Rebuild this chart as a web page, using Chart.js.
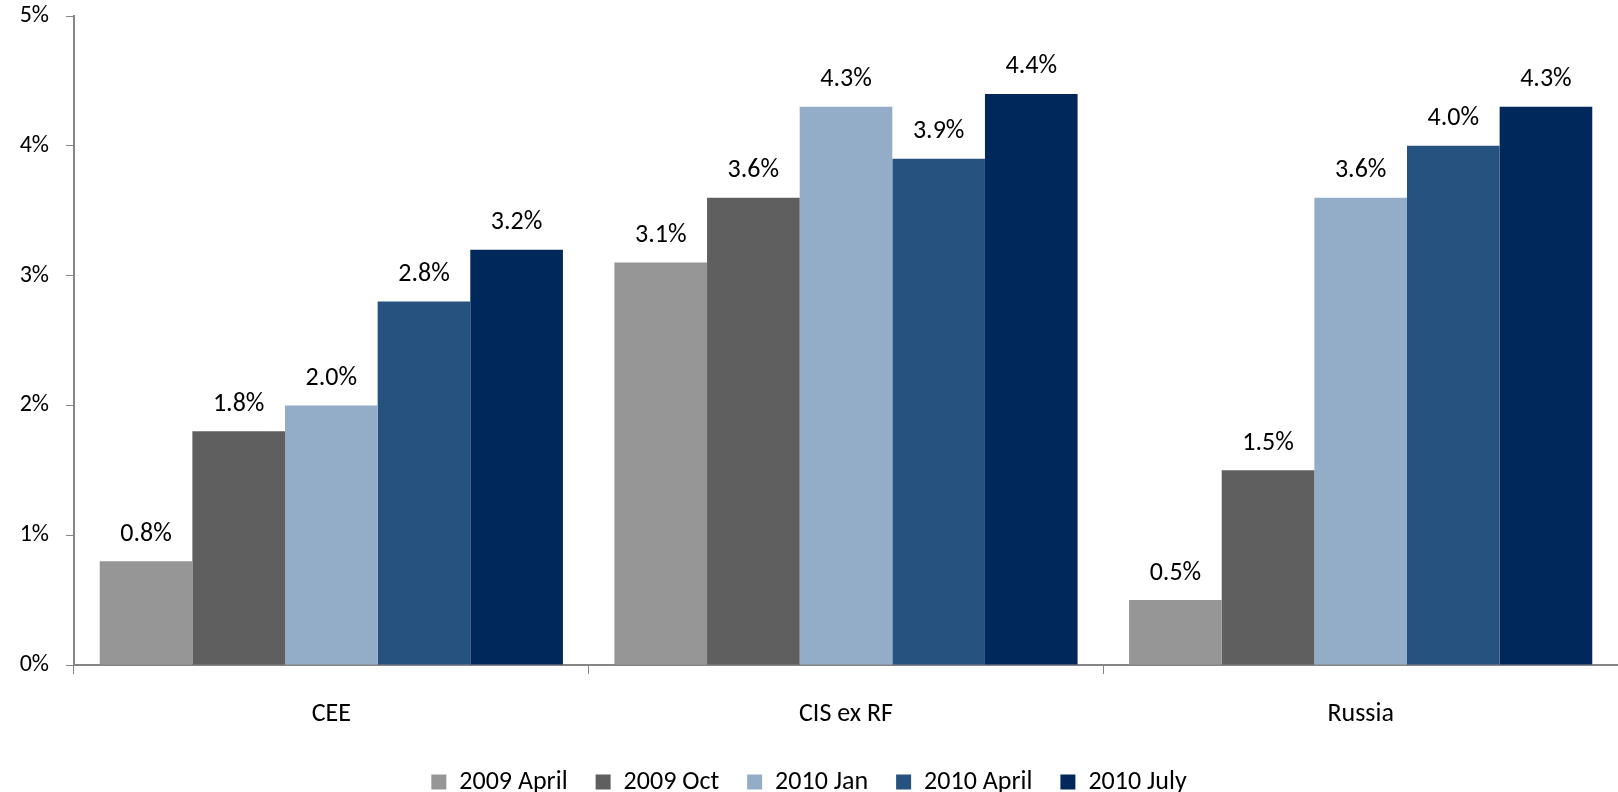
<!DOCTYPE html>
<html>
<head>
<meta charset="utf-8">
<script src="https://cdn.jsdelivr.net/npm/chart.js@4"></script>
<style>
  html, body { margin: 0; padding: 0; background: #fff; }
  #wrap { width: 1618px; height: 792px; }
</style>
</head>
<body>
<div id="wrap"><canvas id="myChart" width="1618" height="792"></canvas></div>
<script>
(function () {
    'use strict';

    // Data
    var categories = ['CEE', 'CIS ex RF', 'Russia'];
    var seriesNames = ['2009 April', '2009 Oct', '2010 Jan', '2010 April', '2010 July'];
    var apr2009 = [0.8, 3.1, 0.5];
    var oct2009 = [1.8, 3.6, 1.5];
    var jan2010 = [2.0, 4.3, 3.6];
    var apr2010 = [2.8, 3.9, 4.0];
    var jul2010 = [3.2, 4.4, 4.3];
    var yTicks = [0, 1, 2, 3, 4, 5];

    var colours = ['#969696', '#5f5f5f', '#93acc8', '#26527f', '#00285a'];
    var values = [apr2009, oct2009, jan2010, apr2010, jul2010];
    var fontFamily = "Carlito, Lato, sans-serif";
    var axisGrey = '#868686';

    var datasets = [];
    for (var i = 0; i < seriesNames.length; i++) {
        datasets.push({
            label: seriesNames[i],
            data: values[i],
            backgroundColor: colours[i],
            borderWidth: 0,
            categoryPercentage: 0.9,
            barPercentage: 1.0
        });
    }

    // Value labels above each bar
    var valueLabels = {
        id: 'valueLabels',
        afterDatasetsDraw: function (chart) {
            var ctx = chart.ctx;
            ctx.save();
            ctx.font = '26px ' + fontFamily;
            ctx.fillStyle = '#000';
            ctx.textAlign = 'center';
            ctx.textBaseline = 'middle';
            chart.data.datasets.forEach(function (ds, di) {
                chart.getDatasetMeta(di).data.forEach(function (bar, j) {
                    ctx.fillText(ds.data[j].toFixed(1) + '%', bar.x, bar.y - 27);
                });
            });
            ctx.restore();
        }
    };

    new Chart(document.getElementById('myChart'), {
        type: 'bar',
        data: { labels: categories, datasets: datasets },
        plugins: [valueLabels],
        options: {
            responsive: false,
            animation: false,
            layout: { padding: { top: 16, right: 0, left: 0, bottom: -13 } },
            plugins: {
                tooltip: { enabled: false },
                legend: {
                    position: 'bottom',
                    labels: {
                        boxWidth: 15,
                        boxHeight: 15,
                        padding: 28,
                        color: '#000',
                        font: { family: fontFamily, size: 26 }
                    }
                }
            },
            scales: {
                x: {
                    afterFit: function (scale) { scale.height = 76; },
                    grid: {
                        offset: true,
                        drawOnChartArea: false,
                        tickLength: 9,
                        color: axisGrey
                    },
                    border: { color: axisGrey, width: 2 },
                    ticks: {
                        padding: 25,
                        color: '#000',
                        font: { family: fontFamily, size: 26 }
                    }
                },
                y: {
                    min: 0,
                    max: 5,
                    afterFit: function (scale) {
                        scale.width = 74;
                        scale.paddingTop = 0;
                        scale.paddingBottom = 0;
                    },
                    afterBuildTicks: function (scale) {
                        scale.ticks = yTicks.map(function (v) { return { value: v }; });
                    },
                    grid: {
                        drawOnChartArea: false,
                        tickLength: 8,
                        color: axisGrey
                    },
                    border: { color: axisGrey, width: 2 },
                    ticks: {
                        padding: 17,
                        color: '#000',
                        font: { family: fontFamily, size: 24 },
                        callback: function (v) { return v + '%'; }
                    }
                }
            }
        }
    });
}());
</script>
</body>
</html>
